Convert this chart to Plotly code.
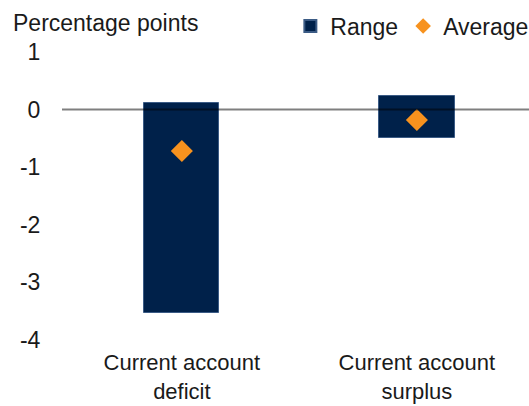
import plotly.graph_objects as go

categories = ["Current account<br>deficit", "Current account<br>surplus"]
range_low = [-3.53, -0.49]
range_high = [0.12, 0.23]
average = [-0.72, -0.18]
y_ticks = [1, 0, -1, -2, -3, -4]
y_tick_labels = ["1", "0", "-1", "-2", "-3", "-4"]

navy = "#00214A"
orange = "#F7921E"
font = "Liberation Sans, Arial, sans-serif"

x_idx = list(range(len(categories)))

fig = go.Figure()
fig.add_trace(go.Bar(
    x=x_idx,
    y=[h - l for h, l in zip(range_high, range_low)],
    base=range_low,
    name="Range",
    width=0.32,
    marker=dict(color=navy, line=dict(color="#3b5b85", width=1)),
))
fig.add_trace(go.Scatter(
    x=x_idx,
    y=average,
    mode="markers",
    name="Average",
    marker=dict(symbol="diamond", size=17, color=orange),
))

fig.add_shape(type="line", xref="paper", x0=0, x1=1, yref="y", y0=0, y1=0,
              line=dict(color="rgba(0,0,0,0.5)", width=2), layer="above")

fig.update_layout(
    width=529, height=406,
    margin=dict(l=62, r=0, t=52, b=66, autoexpand=False),
    paper_bgcolor="white", plot_bgcolor="white",
    font=dict(family=font, size=23, color="#1a1a1a"),
    showlegend=True,
    legend=dict(orientation="h", x=0.489, xanchor="left", y=1.09, yanchor="middle",
                font=dict(size=23), bgcolor="rgba(0,0,0,0)", itemsizing="constant",
                traceorder="normal"),
    annotations=[dict(text="Percentage points", xref="paper", yref="paper",
                      x=-0.11, y=1.1, xanchor="left", yanchor="middle",
                      showarrow=False, font=dict(size=23))],
    bargap=0,
)
fig.update_xaxes(
    range=[-0.51, 1.477], tickmode="array", tickvals=x_idx, ticktext=categories,
    showgrid=False, zeroline=False, showline=False,
    ticks="outside", ticklen=3, tickcolor="rgba(0,0,0,0)",
    tickfont=dict(size=22),
)
fig.update_yaxes(
    range=[-4, 1], tickmode="array", tickvals=y_ticks, ticktext=y_tick_labels,
    showgrid=False, zeroline=False, showline=False,
    ticks="outside", ticklen=16, tickcolor="rgba(0,0,0,0)",
)

fig.write_html("out.html", config={"displayModeBar": False},
               post_script="document.body.style.margin='0';document.body.style.overflow='hidden';")
